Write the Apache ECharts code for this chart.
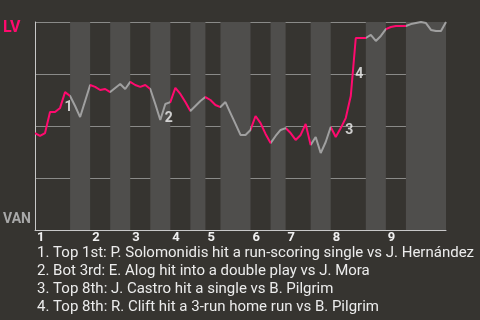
<!DOCTYPE html>
<html>
<head>
<meta charset="utf-8">
<script src="https://cdn.jsdelivr.net/npm/echarts@6/dist/echarts.min.js"></script>
<style>
html,body{margin:0;padding:0;background:#363430;}
#c{width:480px;height:320px;}
</style>
</head>
<body>
<div id="c"></div>
<script>
// half-inning boundaries (play index)
const halfInningEnds = [0,7,11,15,19,23,27,31,34,37,43,47,50,55,59,66,70,74,82];
const innings = ['1','2','3','4','5','6','7','8','9'];
// LV win probability after each play
const winProb = [
  0.466,0.452,0.466,0.567,0.567,0.587,0.663,0.644,
  0.596,0.543,0.620,0.697,
  0.688,0.673,0.678,0.663,
  0.683,0.702,0.678,0.712,
  0.697,0.688,0.697,0.678,
  0.606,0.529,0.606,0.615,
  0.683,0.654,0.615,0.572,
  0.596,0.620,0.639,
  0.625,0.601,0.591,
  0.615,0.562,0.510,0.457,0.457,0.481,
  0.548,0.514,0.462,0.418,
  0.452,0.481,0.490,
  0.466,0.433,0.457,0.510,0.409,
  0.447,0.370,0.423,0.495,
  0.447,0.490,0.538,0.644,0.923,0.923,0.923,
  0.938,0.909,0.933,0.966,
  0.976,0.981,0.981,0.981,
  0.990,0.995,1.000,0.995,0.962,0.957,0.957,1.000
];
// play index right before each annotated event
const eventPlays = [5,25,61,63];
const eventLabels = ['1','2','3','4'];
const notes = [
  '1. Top 1st: P. Solomonidis hit a run-scoring single vs J. Hernández',
  '2. Bot 3rd: E. Alog hit into a double play vs J. Mora',
  '3. Top 8th: J. Castro hit a single vs B. Pilgrim',
  '4. Top 8th: R. Clift hit a 3-run home run vs B. Pilgrim'
];

const PINK = '#ff0a6e';
const GRAY = '#a0a0a0';
const BAND = '#4f4e4c';

const lineData = winProb.map((v,i)=>[i,v]);
const topStarts = halfInningEnds.filter((_,k)=>k%2===0 && k<halfInningEnds.length-1);
const pieces = [];
const bands = [];
for (let k=0;k<halfInningEnds.length-1;k++){
  pieces.push({gte:halfInningEnds[k], lt:halfInningEnds[k+1]+(k===halfInningEnds.length-2?1:0), color: k%2===0?PINK:GRAY});
  if (k%2===1) bands.push([{xAxis:halfInningEnds[k]},{xAxis:halfInningEnds[k+1]}]);
}
const eventData = eventPlays.map((p,j)=>({value:[p+0.5,(winProb[p]+winProb[p+1])/2], name:eventLabels[j]}));

const chart = echarts.init(document.getElementById('c'), null, {renderer:'canvas'});
chart.setOption({
  backgroundColor:'#363430',
  animation:false,
  grid:{left:35,right:34,top:22,bottom:90},
  xAxis:{
    type:'value', min:0, max:halfInningEnds[halfInningEnds.length-1],
    z:1,
    axisLine:{show:true,lineStyle:{color:'#c8c8c8',width:1}},
    axisTick:{show:false},
    splitLine:{show:false},
    axisLabel:{
      customValues:topStarts,
      formatter:(v)=>innings[topStarts.indexOf(v)],
      align:'left', margin:1, padding:[0,0,0,2],
      color:'#f0f0f0', fontFamily:'Roboto', fontWeight:'bold', fontSize:13
    }
  },
  yAxis:{
    type:'value', min:0, max:1, interval:0.25,
    z:1,
    axisLine:{show:true,lineStyle:{color:'#c8c8c8',width:1}},
    axisTick:{show:false},
    axisLabel:{show:false},
    splitLine:{show:true,lineStyle:{color:'#8a8a88',width:1}}
  },
  visualMap:{type:'piecewise',show:false,dimension:0,seriesIndex:1,pieces:pieces},
  series:[
    {type:'line',data:[],z:0,silent:true,
     markArea:{silent:true,itemStyle:{color:BAND},data:bands}},
    {type:'line',data:lineData,z:2,symbol:'none',smooth:false,
     lineStyle:{width:2}},
    {type:'scatter',data:eventData,z:3,symbolSize:0,silent:true,
     label:{show:true,formatter:(p)=>p.name,position:[2,0],align:'left',verticalAlign:'top',
       color:'#f2f2f2',fontFamily:'Roboto',fontWeight:'bold',fontSize:14}}
  ],
  graphic:[
    {type:'text',left:3,top:20,style:{text:'LV',fill:PINK,font:'bold 16px Roboto'}},
    {type:'text',left:3,top:212,style:{text:'VAN',fill:'#a8a8a8',font:'bold 14px Roboto'}},
    {type:'text',left:37,top:244,style:{text:notes.join('\n'),fill:'#ececec',font:'15px Roboto',lineHeight:18}}
  ]
});
</script>
</body>
</html>
